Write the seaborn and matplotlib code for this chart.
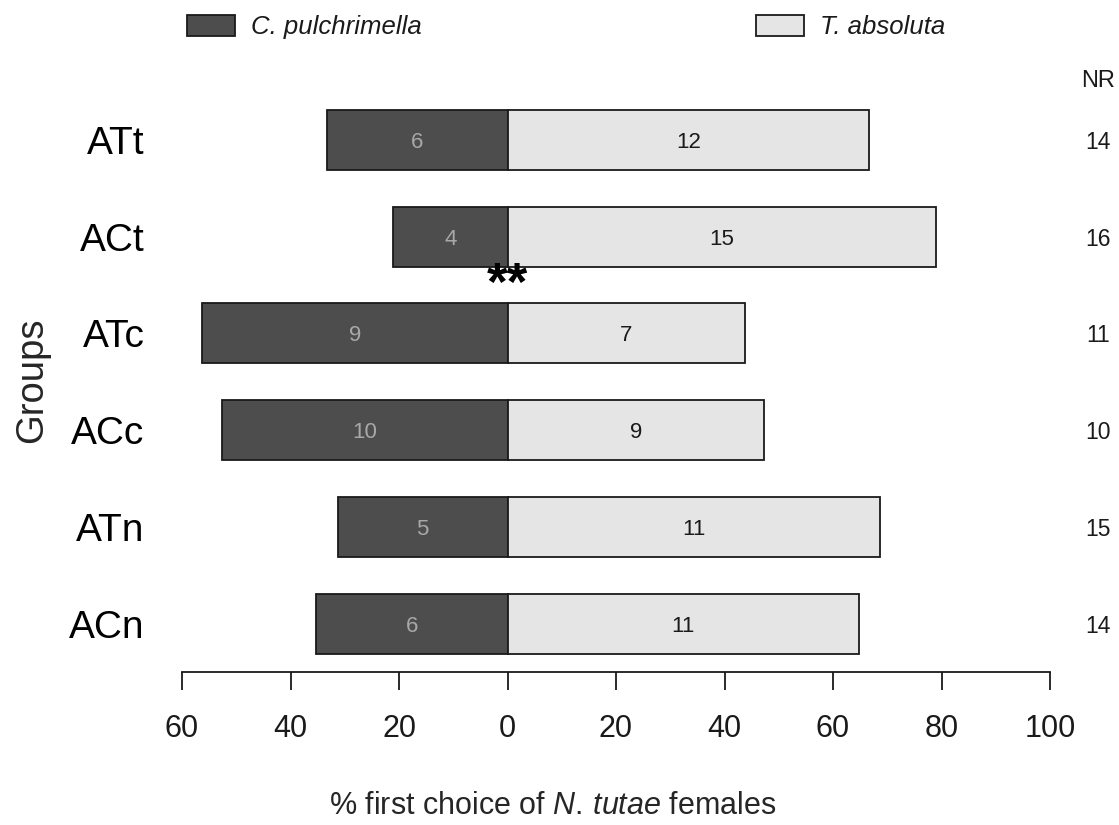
import numpy as np
import pandas as pd
import matplotlib.pyplot as plt
from matplotlib.patches import Patch
import seaborn as sns

# Data: counts of first choice per group
groups = ['ATt', 'ACt', 'ATc', 'ACc', 'ATn', 'ACn']
n_pulchrimella = [6, 4, 9, 10, 5, 6]
n_absoluta = [12, 15, 7, 9, 11, 11]
n_nr = [14, 16, 11, 10, 15, 14]
xticks = [-60, -40, -20, 0, 20, 40, 60, 80, 100]

# Percent of the choosing females for each side
df = pd.DataFrame({'group': groups, 'cp': n_pulchrimella, 'ta': n_absoluta, 'nr': n_nr})
df['total'] = df['cp'] + df['ta']
df['cp_pct'] = 100 * df['cp'] / df['total']
df['ta_pct'] = 100 * df['ta'] / df['total']

sns.set_style('white')
plt.rcParams['font.family'] = ['Liberation Sans', 'DejaVu Sans']
plt.rcParams['mathtext.fontset'] = 'custom'
plt.rcParams['mathtext.rm'] = 'Liberation Sans'
plt.rcParams['mathtext.it'] = 'Liberation Sans:italic'

dark = '#4d4d4d'
light = '#e5e5e5'

fig = plt.figure(figsize=(11.19, 8.25), dpi=100)
ax = fig.add_axes([182 / 1119, 1 - 672 / 825, 868 / 1119, (672 - 43) / 825])

# Left side (negative) for C. pulchrimella, right side for T. absoluta
sns.barplot(x=-df['cp_pct'], y=df['group'], orient='h', color=dark, saturation=1,
            edgecolor='#1a1a1a', linewidth=1.3, width=0.62, ax=ax)
sns.barplot(x=df['ta_pct'], y=df['group'], orient='h', color=light, saturation=1,
            edgecolor='#1a1a1a', linewidth=1.3, width=0.62, ax=ax)

# Counts inside the bars and NR column on the right
for i, row in df.iterrows():
    ax.text(-row['cp_pct'] / 2, i, str(row['cp']), ha='center', va='center_baseline',
            fontsize=16, color='#a8a8a8')
    ax.text(row['ta_pct'] / 2, i, str(row['ta']), ha='center', va='center_baseline',
            fontsize=16, color='#1a1a1a')
    ax.text(108.8, i, str(row['nr']), ha='center', va='center_baseline', fontsize=16.5,
            color='#1a1a1a', clip_on=False)
ax.text(108.8, -0.63, 'NR', ha='center', va='center_baseline', fontsize=17,
        color='#1a1a1a', clip_on=False)

# significance mark for ACt
ax.text(0, 1.66, '**', ha='center', va='baseline', fontsize=38, fontweight='bold', color='black')

ax.set_xlim(-60, 100)
ax.set_ylim(5.5, -1.0)
ax.set_xticks(xticks)
ax.set_xticklabels([str(abs(t)) for t in xticks], fontsize=22)
ax.tick_params(axis='x', bottom=True, length=13, width=1.3, pad=17, colors='#1a1a1a')
ax.tick_params(axis='y', left=False, length=0, pad=27, labelsize=28)
for lab in ax.get_yticklabels():
    lab.set_color('black')

for side in ['top', 'right', 'left']:
    ax.spines[side].set_visible(False)
ax.spines['bottom'].set_linewidth(1.3)
ax.spines['bottom'].set_color('#1a1a1a')

ax.set_xlabel('% first choice of $\\it{N.\\,tutae}$ females', fontsize=22, labelpad=34)
ax.xaxis.label.set_x(0.4274)
ax.set_ylabel('Groups', fontsize=27.5)
ax.yaxis.set_label_coords(-0.152, 0.464)

# Legend on top
handles = [Patch(facecolor=dark, edgecolor='#1a1a1a', linewidth=1.3),
           Patch(facecolor=light, edgecolor='#1a1a1a', linewidth=1.3)]
labels = ['C. pulchrimella', 'T. absoluta']
leg = fig.legend(handles, labels, loc='upper left', bbox_to_anchor=(187 / 1119, 1 - 15 / 825),
                 ncol=2, frameon=False, fontsize=18.5, handlelength=1.86, handleheight=0.88,
                 handletextpad=0.64, columnspacing=13.0, borderpad=0, borderaxespad=0)
for t in leg.get_texts():
    t.set_fontstyle('italic')
    t.set_color('#1a1a1a')

fig.savefig('out.png', dpi=100)
